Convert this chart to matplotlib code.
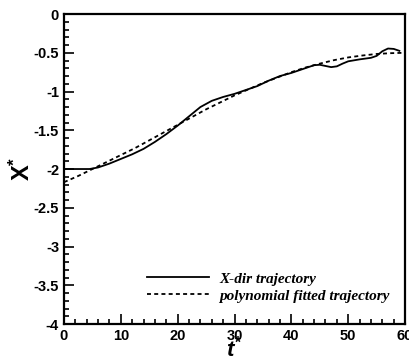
import matplotlib
matplotlib.use('Agg')
import matplotlib.pyplot as plt
from matplotlib.ticker import MultipleLocator

plt.rcParams['font.family'] = ['Liberation Sans', 'DejaVu Sans']
plt.rcParams['mathtext.fontset'] = 'custom'
plt.rcParams['mathtext.bf'] = 'Liberation Sans:bold'
plt.rcParams['mathtext.it'] = 'Liberation Sans:bold:italic'
plt.rcParams['mathtext.rm'] = 'Liberation Sans:bold'

# Траєкторія по X (виміряна)
t_traj = [0, 2, 4.5, 6, 8, 10, 12, 14, 16, 18, 20, 22, 24, 26, 28, 30, 32, 34,
          36, 38, 40, 42, 44, 45, 46, 47, 48, 49, 50, 52, 54, 55, 56, 57, 58, 59]
x_traj = [-2.0, -2.0, -2.0, -1.98, -1.93, -1.87, -1.81, -1.74, -1.65, -1.55,
          -1.44, -1.32, -1.20, -1.12, -1.07, -1.03, -0.98, -0.93, -0.86, -0.80,
          -0.76, -0.71, -0.66, -0.655, -0.67, -0.685, -0.675, -0.64, -0.61,
          -0.585, -0.565, -0.54, -0.48, -0.445, -0.45, -0.475]

# Поліноміальна апроксимація
t_fit = [0, 2.5, 5, 7.5, 10, 12.5, 15, 17.5, 20, 22.5, 25, 27.5, 30, 32.5, 35,
         37.5, 40, 42.5, 45, 47.5, 50, 52.5, 55, 57.5, 60]
x_fit = [-2.17, -2.09, -2.00, -1.91, -1.82, -1.73, -1.63, -1.53, -1.43, -1.33,
         -1.23, -1.14, -1.05, -0.97, -0.89, -0.82, -0.75, -0.69, -0.64, -0.595,
         -0.56, -0.535, -0.515, -0.505, -0.50]

fig = plt.figure(figsize=(4.1, 3.6), dpi=100)
ax = fig.add_axes([0.156, 0.1, 0.832, 0.861])

ax.plot(t_traj, x_traj, color='black', linewidth=1.3, label='X-dir trajectory')
ax.plot(t_fit, x_fit, color='black', linewidth=1.3, linestyle=(0, (2.2, 1.8)),
        label='polynomial fitted trajectory')

ax.set_xlim(0, 60)
ax.set_ylim(-4, 0)
ax.xaxis.set_major_locator(MultipleLocator(10))
ax.xaxis.set_minor_locator(MultipleLocator(2))
ax.yaxis.set_major_locator(MultipleLocator(0.5))
ax.yaxis.set_minor_locator(MultipleLocator(0.1))
ax.set_yticks([0, -0.5, -1, -1.5, -2, -2.5, -3, -3.5, -4])
ax.set_yticklabels(['0', '-0.5', '-1', '-1.5', '-2', '-2.5', '-3', '-3.5', '-4'])

ax.tick_params(which='both', direction='in', top=False, right=False, width=1.2)
ax.tick_params(which='major', length=7, labelsize=10.5)
ax.tick_params(which='minor', length=3.5)
for lab in ax.get_xticklabels() + ax.get_yticklabels():
    lab.set_fontweight('bold')
for sp in ax.spines.values():
    sp.set_linewidth(1.6)

ax.set_xlabel(r'$\mathit{t}^{*}$', fontsize=16, labelpad=-5)
ax.set_ylabel(r'$\mathbf{X}^{*}$', fontsize=17, labelpad=-1)

leg = ax.legend(loc='lower right', bbox_to_anchor=(0.995, 0.025), frameon=False,
                handlelength=4.0, handletextpad=0.7, labelspacing=0.2,
                prop={'family': 'Liberation Serif', 'style': 'italic',
                      'weight': 'bold', 'size': 11})

fig.savefig('out.png', dpi=100)
